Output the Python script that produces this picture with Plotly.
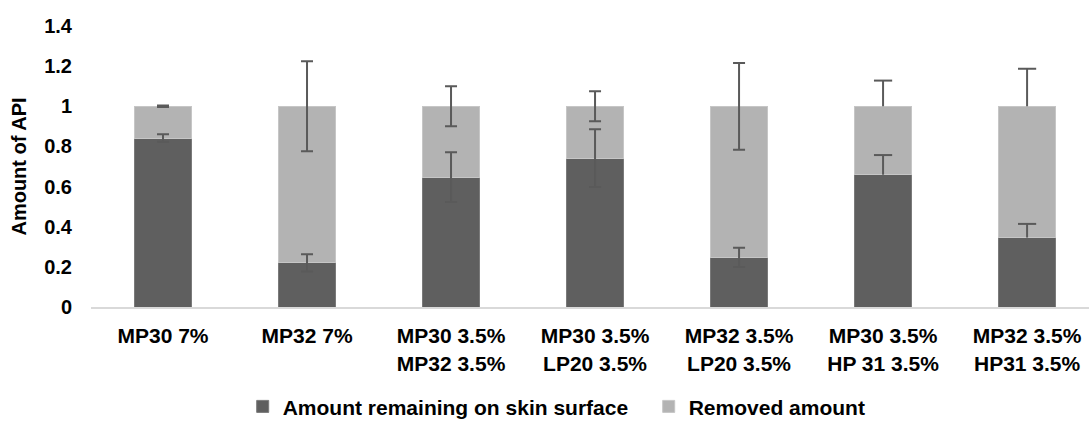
import plotly.graph_objects as go

categories = ["MP30 7%", "MP32 7%", "MP30 3.5%<br>MP32 3.5%", "MP30 3.5%<br>LP20 3.5%",
              "MP32 3.5%<br>LP20 3.5%", "MP30 3.5%<br>HP 31 3.5%", "MP32 3.5%<br>HP31 3.5%"]
remaining = [0.842, 0.220, 0.647, 0.742, 0.247, 0.659, 0.346]
removed = [0.158, 0.780, 0.353, 0.258, 0.753, 0.341, 0.654]
remaining_err = [0.019, 0.043, 0.124, 0.144, 0.048, 0.098, 0.068]
removed_err = [0.004, 0.224, 0.100, 0.075, 0.216, 0.128, 0.187]
# error bars drawn in both directions (True) or upward only (False)
both_directions = [True, True, True, True, True, False, False]

DARK = "#5f5f5f"
LIGHT = "#b3b3b3"
ERR = "#5a5a5a"
FONT = "Liberation Sans, Arial, sans-serif"

fig = go.Figure()
fig.add_trace(go.Bar(x=categories, y=remaining, name="Amount remaining on skin surface",
                     marker=dict(color=DARK, line=dict(color="#7a7a7a", width=1))))
fig.add_trace(go.Bar(x=categories, y=removed, name="Removed amount",
                     marker=dict(color=LIGHT, line=dict(color="#c6c6c6", width=1))))

stack_top = [a + b for a, b in zip(remaining, removed)]

def add_errors(base, err):
    # symmetric error bars
    xs = [c for c, b in zip(categories, both_directions) if b]
    ys = [v for v, b in zip(base, both_directions) if b]
    es = [e for e, b in zip(err, both_directions) if b]
    fig.add_trace(go.Scatter(x=xs, y=ys, mode="none", showlegend=False, hoverinfo="skip",
                             error_y=dict(type="data", array=es, color=ERR, thickness=2, width=6)))
    # upward-only error bars: stem from the value, cap at the top
    xs = [c for c, b in zip(categories, both_directions) if not b]
    tops = [v + e for v, e, b in zip(base, err, both_directions) if not b]
    es = [e for e, b in zip(err, both_directions) if not b]
    fig.add_trace(go.Scatter(x=xs, y=tops, mode="markers", showlegend=False, hoverinfo="skip",
                             marker=dict(symbol="line-ew", size=13, line=dict(color=ERR, width=2)),
                             error_y=dict(type="data", symmetric=False, array=[0] * len(es),
                                          arrayminus=es, color=ERR, thickness=2, width=0)))

add_errors(remaining, remaining_err)
add_errors(stack_top, removed_err)

fig.update_layout(
    width=1089, height=421,
    margin=dict(l=91, r=0, t=26, b=114, autoexpand=False),
    barmode="stack", bargap=0.6,
    plot_bgcolor="white", paper_bgcolor="white",
    font=dict(family=FONT, size=20, color="#000000", weight="bold"),
    legend=dict(orientation="h", traceorder="normal", x=0.152, xanchor="left", y=-0.355, yanchor="middle",
                font=dict(family=FONT, size=21, color="#000000", weight="bold"),
                entrywidth=361, entrywidthmode="pixels", bgcolor="rgba(0,0,0,0)"),
    showlegend=True,
)
fig.update_xaxes(type="category", range=[-0.5, 6.43], showgrid=False, showline=True,
                 linecolor="#d9d9d9", linewidth=2, ticks="", ticklabelstandoff=9,
                 tickfont=dict(family=FONT, size=21, color="#000000", weight="bold"))
fig.update_yaxes(range=[0, 1.4], dtick=0.2, showgrid=False, showline=False, zeroline=False,
                 ticks="", ticklabelstandoff=18, tickformat="~r",
                 tickfont=dict(family=FONT, size=20, color="#000000", weight="bold"),
                 title=dict(text="Amount of API", standoff=12,
                            font=dict(family=FONT, size=20, color="#000000", weight="bold")))

fig.write_html("out.html")
